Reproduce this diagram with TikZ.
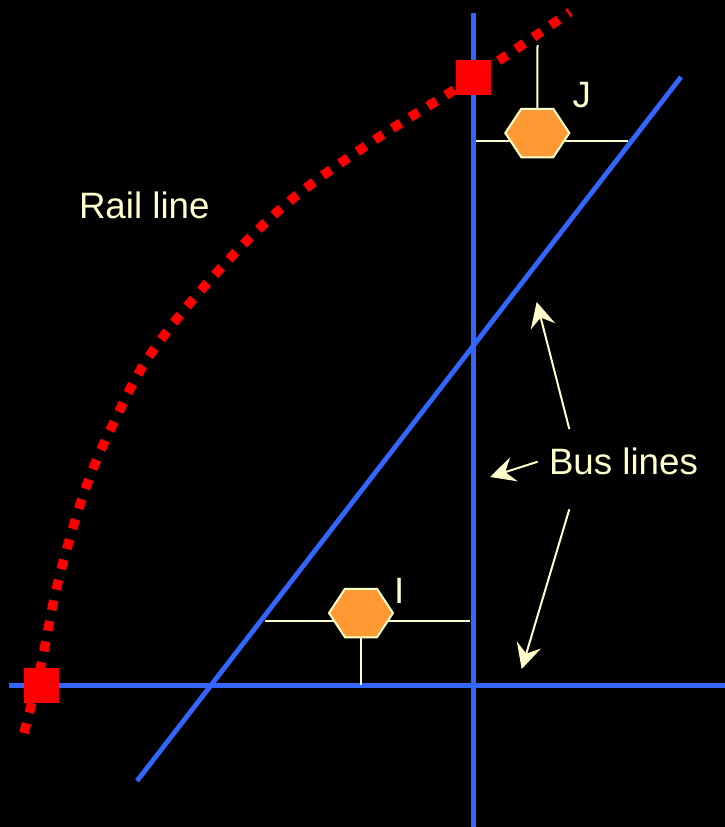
\documentclass[tikz,border=0pt]{standalone}
\usepackage{fontspec}
\setmainfont{Liberation Sans}
\usetikzlibrary{arrows.meta,shapes.geometric}
\definecolor{busblue}{HTML}{3366FF}
\definecolor{hexorange}{HTML}{FF9933}
\definecolor{cream}{HTML}{FFFFCC}
\definecolor{railred}{HTML}{FF0000}
\tikzset{
  busline/.style={draw=busblue,line width=4.8pt},
  railline/.style={draw=railred,line width=9.5pt,dash pattern=on 10pt off 11pt},
  link/.style={draw=cream,line width=2pt},
  pointer/.style={draw=cream,line width=2pt,-{Stealth[length=25pt,width=25pt,inset=9pt,fill=cream]}},
  stop/.style={fill=railred,draw=none,minimum size=35pt,inner sep=0pt,rectangle},
  hexstop/.style={regular polygon,regular polygon sides=6,minimum size=64pt,inner sep=0pt,
    yscale=0.875,transform shape,fill=hexorange,draw=cream,line width=2pt},
  label/.style={text=cream,font=\fontsize{36.7pt}{40pt}\selectfont,anchor=base west,inner sep=0pt,outer sep=0pt}
}
\begin{document}
\begin{tikzpicture}[x=1pt,y=-1pt]
\useasboundingbox[fill=black] (0,0) rectangle (725,827);
% line end points
\coordinate (vtop) at (473.3,13);
\coordinate (vbot) at (473.3,827);
\coordinate (hleft) at (9,685.5);
\coordinate (hright) at (725,685.5);
\coordinate (dtop) at (681,77);
\coordinate (dbot) at (137,781);
\coordinate (railS) at (24,733);
\coordinate (railE) at (570,12);
\coordinate (jtop) at (537.5,45);
\coordinate (jl) at (476,141.3);
\coordinate (jr) at (628,141.3);
\coordinate (il) at (265,621.3);
\coordinate (ir) at (470,621.3);
\coordinate (ib) at (361,685);
\coordinate (aup) at (569.3,429);
\coordinate (aupt) at (536.7,302);
\coordinate (amid) at (537.7,461.7);
\coordinate (amidt) at (490,477);
\coordinate (adn) at (569.3,509.3);
\coordinate (adnt) at (521.7,669);
% bus lines
\draw[busline] (vtop) -- (vbot);
\draw[busline] (hleft) -- (hright);
\draw[busline] (dbot) -- (dtop);
% rail line
\draw[railline] plot[smooth,tension=0.6] coordinates {(railS) (41,665) (58,582) (85,490) (115,420) (150,355) (210,280) (285,205) (370,143) (473.5,77.5) (railE)};
% stations
\node[stop] (railA) at (41.5,685.5) {};
\node[stop] (railB) at (473.5,77.5) {};
% connectors
\draw[link] (jl) -- (jr);
\draw[link] (il) -- (ir);
\node[hexstop] (hexJ) at (537.3,133) {};
\node[hexstop] (hexI) at (361,613) {};
\draw[link] (jtop) -- (hexJ.north);
\draw[link] (hexI.south) -- (ib);
% pointers
\draw[pointer] (aup) -- (aupt);
\draw[pointer] (amid) -- (amidt);
\draw[pointer] (adn) -- (adnt);
% labels
\node[label] (railT) at (79,218.5) {Rail line};
\node[label] (busT) at (549,474) {Bus lines};
\node[label] (jT) at (572.5,107) {J};
\node[label] (iT) at (394,603) {I};
\end{tikzpicture}
\end{document}
